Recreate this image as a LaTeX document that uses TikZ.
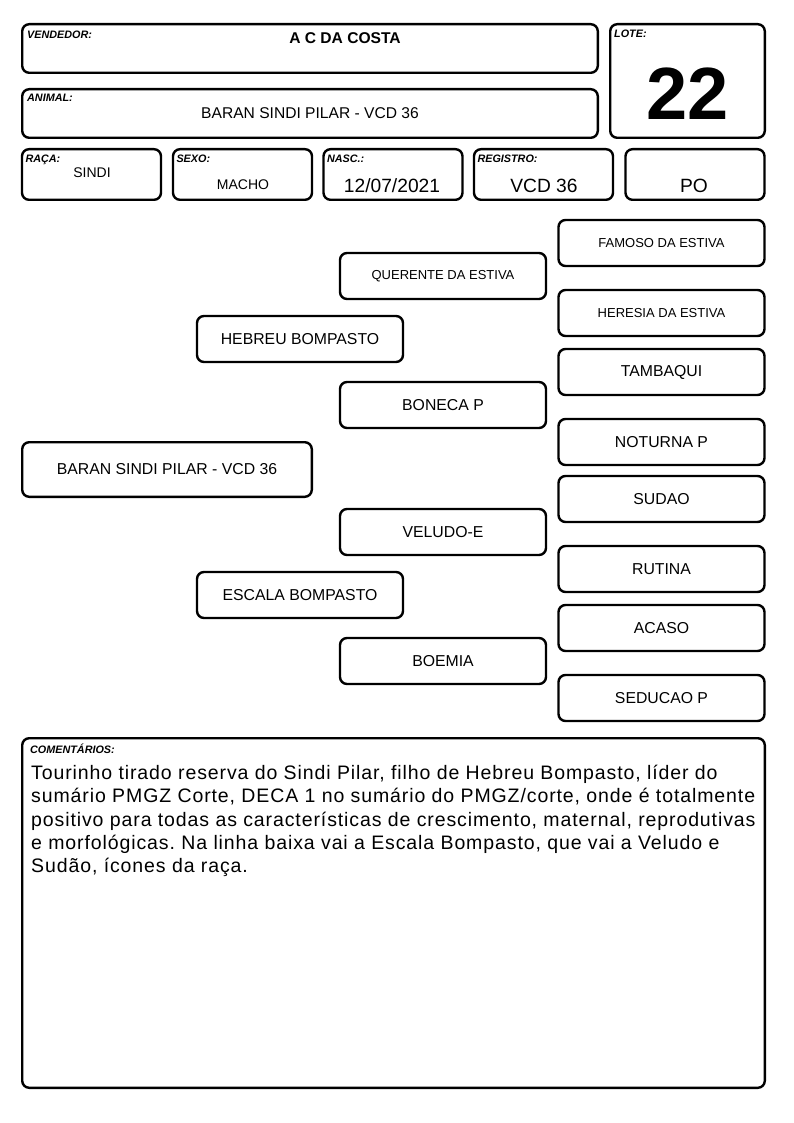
\documentclass[tikz,border=0pt]{standalone}
\usepackage{fontspec}
\setmainfont{Liberation Sans}
\newfontfamily\notefont[LetterSpace=4.6]{Liberation Sans}
\frenchspacing
\begin{document}
\begin{tikzpicture}[x=1pt,y=-1pt]
    \tikzstyle{card}=[draw, line width=2.4pt, rounded corners=7pt, inner sep=0pt]
    \tikzstyle{lbl}=[anchor=north west, inner sep=0pt, font=\fontsize{10.8}{12}\selectfont\bfseries\itshape]
    \tikzstyle{val}=[anchor=base, inner sep=0pt, font=\fontsize{15.6}{18}\selectfont]
    \tikzstyle{big}=[anchor=base, inner sep=0pt, font=\fontsize{19.2}{22}\selectfont]
    \tikzstyle{pbox}=[card, minimum width=206pt, minimum height=46pt, font=\fontsize{15.8}{18}\selectfont]
    \tikzstyle{small}=[font=\fontsize{13}{15}\selectfont]

    \useasboundingbox (0,0) rectangle (794,1123);

    % cabecalho
    \node[card, minimum width=575.6pt, minimum height=48.6pt] (vend) at (310,48.5) {};
    \node[card, minimum width=575.6pt, minimum height=48.6pt] (anim) at (310,113.5) {};
    \node[card, minimum width=154.6pt, minimum height=113.6pt] (lote) at (687.5,81) {};
    \node[lbl] (vend-l) at (27,31) {VENDEDOR:};
    \node[lbl] (anim-l) at (27,94) {ANIMAL:};
    \node[lbl] (lote-l) at (614,30) {LOTE:};
    \node[val, font=\fontsize{15.6}{18}\selectfont\bfseries] (vend-v) at (345,43.5) {A C DA COSTA};
    \node[val] (anim-v) at (310,119) {BARAN SINDI PILAR - VCD 36};
    \node[anchor=base, inner sep=0pt, font=\fontsize{74}{80}\selectfont\bfseries] (lote-v) at (687.5,120) {22};

    \foreach \name/\cx/\lab in {raca/91.5/RAÇA:, sexo/242.5/SEXO:, nasc/393/NASC.:, reg/543.5/REGISTRO:, po/695/}
    {
        \node[card, minimum width=139pt, minimum height=50.6pt] (\name) at (\cx,174.5) {};
        \node[lbl] (\name-l) at ([shift={(4.5pt,-6.5pt)}]\name.north west) {\lab};
    }
    \node[val, font=\fontsize{14}{16}\selectfont] (raca-v) at (92,178) {SINDI};
    \node[val, font=\fontsize{14}{16}\selectfont] (sexo-v) at (243,190) {MACHO};
    \node[big] (nasc-v) at (392,193) {12/07/2021};
    \node[big] (reg-v) at (544,193) {VCD 36};
    \node[big] (po-v) at (694,193) {PO};

    % genealogia
    \node[card, minimum width=289.6pt, minimum height=54.6pt, font=\fontsize{15.8}{18}\selectfont] (animal) at (167,469.5) {BARAN SINDI PILAR - VCD 36};

    \node[pbox] (p) at (300,339) {HEBREU BOMPASTO};
    \node[pbox] (m) at (300,595) {ESCALA BOMPASTO};

    \node[pbox, small] (pp) at (443,276) {QUERENTE DA ESTIVA};
    \node[pbox] (pm) at (443,405) {BONECA P};
    \node[pbox] (mp) at (443,532) {VELUDO-E};
    \node[pbox] (mm) at (443,661) {BOEMIA};

    \node[pbox, small] (ppp) at (661.5,243) {FAMOSO DA ESTIVA};
    \node[pbox, small] (ppm) at (661.5,313) {HERESIA DA ESTIVA};
    \foreach \name/\y/\txt in {pmp/372/TAMBAQUI, pmm/442/NOTURNA P, mpp/499/SUDAO, mpm/569/RUTINA, mmp/628/ACASO, mmm/698/SEDUCAO P}
        \node[pbox] (\name) at (661.5,\y) {\txt};

    % comentarios
    \node[card, minimum width=742.6pt, minimum height=349.6pt] (coment) at (393.5,913) {};
    \node[lbl] (coment-l) at (30,744) {COMENTÁRIOS:};
    \node[anchor=north west, inner sep=0pt, align=left, font=\notefont\fontsize{19.5}{23.3}\selectfont] (coment-v) at (31,765)
        {Tourinho tirado reserva do Sindi Pilar, filho de Hebreu Bompasto, líder do\\
         sumário PMGZ Corte, DECA 1 no sumário do PMGZ/corte, onde é totalmente\\
         positivo para todas as características de crescimento, maternal, reprodutivas\\
         e morfológicas. Na linha baixa vai a Escala Bompasto, que vai a Veludo e\\
         Sudão, ícones da raça.};
\end{tikzpicture}
\end{document}
